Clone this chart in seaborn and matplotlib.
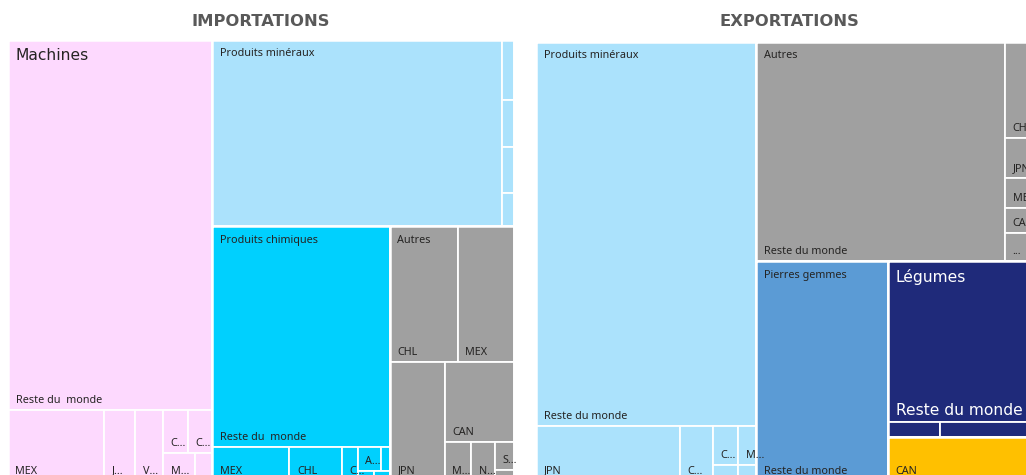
import matplotlib
matplotlib.use("Agg")
import matplotlib.pyplot as plt
from matplotlib.patches import Rectangle
import seaborn as sns

sns.set_theme(style="white")
plt.rcParams["font.family"] = ["Noto Sans", "DejaVu Sans"]

# ---------------------------
# Data (relative trade values)
# ---------------------------
imp_categories = ["Machines", "Produits minéraux", "Produits chimiques", "Autres"]
imp_colors = ["#FDD9FE", "#ABE2FC", "#00D0FE", "#A0A0A0"]

imp_machines_labels = ["Reste du  monde", "MEX", "J...", "V...", "C...", "C...", "M...", ""]
imp_machines_values = [754.8, 67.2, 21.7, 19.6, 10.8, 10.3, 8.6, 4.6]
imp_machines_rows = [1, 1, 1, 1, 2, 1, 1]

imp_mineraux_labels = ["", "", "", "", ""]
imp_mineraux_values = [539.4, 7.2, 5.6, 5.5, 4.0]
imp_mineraux_rows = [1, 1, 1, 1, 1]

imp_chimiques_labels = ["Reste du  monde", "MEX", "CHL", "C...", "A...", "", "", ""]
imp_chimiques_values = [391.6, 26.2, 17.7, 5.4, 5.5, 2.2, 1.6, 1.6]
imp_chimiques_rows = [1, 1, 1, 1, 2, 1, 1]

imp_autres_labels = ["CHL", "MEX", "JPN", "CAN", "M...", "N...", "S...", ""]
imp_autres_values = [92.5, 76.2, 64.9, 55.2, 9.9, 9.1, 5.3, 1.9]
imp_autres_rows = [2, 1, 1, 1, 1, 1, 1]

exp_categories = ["Produits minéraux", "Autres", "Pierres gemmes", "Légumes", "Fruits"]
exp_colors = ["#ABE2FC", "#A0A0A0", "#5B9BD5", "#1F2A7A", "#FFC000"]

exp_mineraux_labels = ["Reste du monde", "JPN", "C...", "C...", "M...", "", ""]
exp_mineraux_values = [847.0, 77.8, 17.8, 9.8, 7.0, 3.8, 2.7]
exp_mineraux_rows = [1, 1, 1, 2, 1, 1]

exp_autres_labels = ["Reste du monde", "CHN", "JPN", "MEX", "CAN", "..."]
exp_autres_values = [547.8, 35.5, 14.8, 11.1, 9.3, 10.4]
exp_autres_rows = [1, 1, 1, 1, 1, 1]

exp_gemmes_labels = ["Reste du monde"]
exp_gemmes_values = [289.1]
exp_gemmes_rows = [1]

exp_legumes_labels = ["Reste du monde", "", ""]
exp_legumes_values = [247.9, 7.8, 15.3]
exp_legumes_rows = [1, 1, 1]

exp_fruits_labels = ["CAN"]
exp_fruits_values = [66.2]
exp_fruits_rows = [1]

imp_children = [
    (imp_machines_labels, imp_machines_values, imp_machines_rows),
    (imp_mineraux_labels, imp_mineraux_values, imp_mineraux_rows),
    (imp_chimiques_labels, imp_chimiques_values, imp_chimiques_rows),
    (imp_autres_labels, imp_autres_values, imp_autres_rows),
]
exp_children = [
    (exp_mineraux_labels, exp_mineraux_values, exp_mineraux_rows),
    (exp_autres_labels, exp_autres_values, exp_autres_rows),
    (exp_gemmes_labels, exp_gemmes_values, exp_gemmes_rows),
    (exp_legumes_labels, exp_legumes_values, exp_legumes_rows),
    (exp_fruits_labels, exp_fruits_values, exp_fruits_rows),
]

# categories drawn with the large label font
big_group_label = {"Machines", "Légumes"}
big_child_label = {"Légumes"}
light_text = {"Légumes"}


# ---------------------------
# Strip treemap layout
# ---------------------------
def layout(values, rows, x, y, w, h):
    scale = w * h / sum(values)
    rects = []
    i = 0
    for n in rows:
        group = values[i:i + n]
        area = sum(group) * scale
        if w <= h:
            rh = area / w
            cx = x
            for v in group:
                cw = v * scale / rh
                rects.append((cx, y, cw, rh))
                cx += cw
            y += rh
            h -= rh
        else:
            cw = area / h
            cy = y
            for v in group:
                ch = v * scale / cw
                rects.append((x, cy, cw, ch))
                cy += ch
            x += cw
            w -= cw
        i += n
    return rects


def draw_panel(ax, title, categories, colors, children, x0, y0, w, h):
    totals = [sum(c[1]) for c in children]
    group_rects = layout(totals, [1] * len(totals), x0, y0, w, h)
    for cat, col, (labels, values, rows), (gx, gy, gw, gh) in zip(
        categories, colors, children, group_rects
    ):
        txt_col = "white" if cat in light_text else "#252423"
        for lab, (cx, cy, cw, ch) in zip(labels, layout(values, rows, gx, gy, gw, gh)):
            ax.add_patch(Rectangle((cx, cy), cw, ch, facecolor=col,
                                   edgecolor="white", linewidth=1.3))
            if lab:
                big = cat in big_child_label
                ax.text(cx + 7.5, cy + ch - 7, lab, ha="left", va="baseline",
                        fontsize=11.2 if big else 7.8, color=txt_col,
                        family="DejaVu Sans" if big else "Noto Sans", clip_on=True)
        ax.add_patch(Rectangle((gx, gy), gw, gh, facecolor="none",
                               edgecolor="white", linewidth=1.8))
        if gh > 60:
            big = cat in big_group_label
            ax.text(gx + 7.5, gy + (8 if big else 9), cat, ha="left", va="top",
                    fontsize=11.2 if big else 7.8, color=txt_col,
                    family="DejaVu Sans" if big else "Noto Sans", clip_on=True)
    ax.text(x0 + w / 2, 21, title, ha="center", va="center", fontsize=11.8,
            fontweight="bold", color="#595959", family="DejaVu Sans")


fig = plt.figure(figsize=(10.26, 4.75), dpi=100)
ax = fig.add_axes([0, 0, 1, 1])
ax.set_xlim(0, 1026)
ax.set_ylim(475, 0)
ax.axis("off")

draw_panel(ax, "IMPORTATIONS", imp_categories, imp_colors, imp_children,
           8, 39.5, 506, 441)
draw_panel(ax, "EXPORTATIONS", exp_categories, exp_colors, exp_children,
           536, 41.5, 506, 439)

fig.savefig("out.png", dpi=100)
plt.close(fig)
